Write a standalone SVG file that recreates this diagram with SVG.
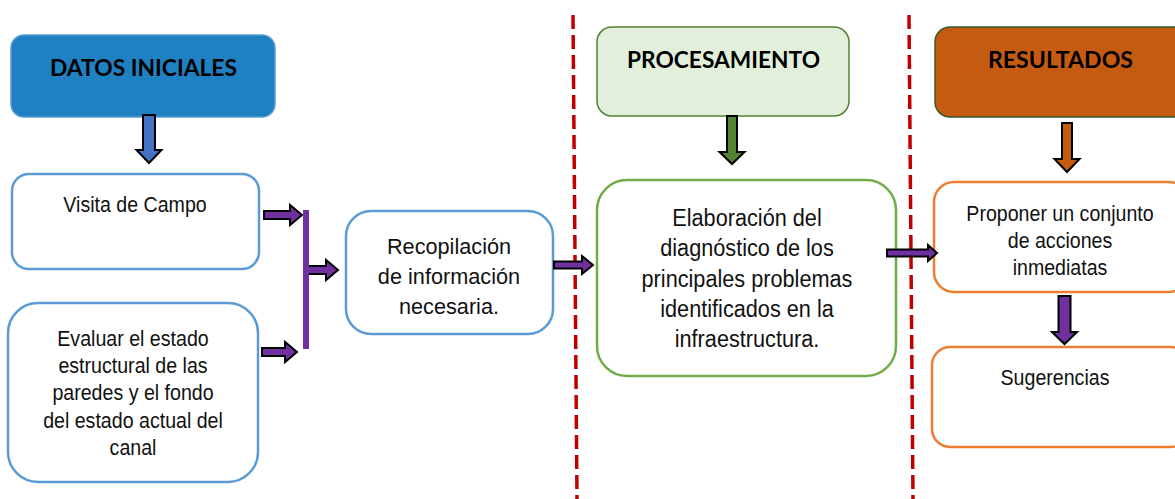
<svg xmlns="http://www.w3.org/2000/svg" width="1175" height="499" viewBox="0 0 1175 499">
<style>
.title{font-family:Lato,"Liberation Sans",sans-serif;font-weight:bold;font-size:21px;fill:#000;text-anchor:middle}
.body{font-family:"Liberation Sans",Arial,sans-serif;font-size:19.6px;fill:#111;text-anchor:middle}
.blue{fill:#fff;stroke:#5B9BD5;stroke-width:2.5}
.green{fill:#fff;stroke:#70AD47;stroke-width:2.5}
.orange{fill:#fff;stroke:#ED7D31;stroke-width:2.5}
.arr{stroke:#000;stroke-width:2;stroke-linejoin:miter}
.purple{fill:#7030A0}
.sep{stroke:#C00000;stroke-width:3.5;stroke-dasharray:14 6;fill:none}
</style>
<rect width="1175" height="499" fill="#fff"/>
<g id="separators">
<line class="sep" x1="573" y1="15" x2="577" y2="499"/>
<line class="sep" x1="909" y1="15" x2="913" y2="499"/>
</g>
<g id="datos-iniciales">
<rect x="11" y="35" width="264" height="82" rx="13" fill="#1F80C2" stroke="#5B9BD5" stroke-width="1.5"/>
<text class="title" x="143.5" y="76" style="font-size:22px" textLength="187" lengthAdjust="spacingAndGlyphs">DATOS INICIALES</text>
</g>
<g id="visita">
<rect class="blue" x="12" y="174" width="247" height="95" rx="17"/>
<text class="body" transform="translate(135,212) scale(1,1.12)">Visita de Campo</text>
</g>
<g id="evaluar">
<rect class="blue" x="8" y="303" width="250" height="179" rx="30"/>
<text class="body" transform="translate(133,346) scale(1,1.16)">Evaluar el estado</text>
<text class="body" transform="translate(133,373) scale(1,1.16)">estructural de las</text>
<text class="body" transform="translate(133,400) scale(1,1.16)">paredes y el fondo</text>
<text class="body" transform="translate(133,428) scale(1,1.16)">del estado actual del</text>
<text class="body" transform="translate(133,455) scale(1,1.16)">canal</text>
</g>
<g id="recopilacion">
<rect class="blue" x="346" y="211" width="207" height="123" rx="25"/>
<text class="body" style="font-size:21.7px" transform="translate(449,254) scale(1,1.04)">Recopilación</text>
<text class="body" style="font-size:21.7px" transform="translate(449,284) scale(1,1.04)">de información</text>
<text class="body" style="font-size:21.7px" transform="translate(449,314) scale(1,1.04)">necesaria.</text>
</g>
<g id="procesamiento">
<rect x="597" y="27" width="252" height="89" rx="15" fill="#E2EFDA" stroke="#548235" stroke-width="1.5"/>
<text class="title" x="723.5" y="68" style="font-size:22px" textLength="193" lengthAdjust="spacingAndGlyphs">PROCESAMIENTO</text>
</g>
<g id="elaboracion">
<rect class="green" x="597" y="180" width="299" height="196" rx="30"/>
<text class="body" style="font-size:21.7px" transform="translate(747,226) scale(1,1.12)">Elaboración del</text>
<text class="body" style="font-size:21.7px" transform="translate(747,256) scale(1,1.12)">diagnóstico de los</text>
<text class="body" style="font-size:21.7px" transform="translate(747,287) scale(1,1.12)">principales problemas</text>
<text class="body" style="font-size:21.7px" transform="translate(747,317) scale(1,1.12)">identificados en la</text>
<text class="body" style="font-size:21.7px" transform="translate(747,347) scale(1,1.12)">infraestructura.</text>
</g>
<g id="resultados">
<rect x="935" y="27" width="260" height="90" rx="15" fill="#C55A11" stroke="#3A5A28" stroke-width="1.5"/>
<text class="title" x="1060.5" y="68" style="font-size:22px" textLength="145" lengthAdjust="spacingAndGlyphs">RESULTADOS</text>
</g>
<g id="proponer">
<rect class="orange" x="934" y="182" width="255" height="110" rx="20"/>
<text class="body" transform="translate(1060,221) scale(1,1.14)">Proponer un conjunto</text>
<text class="body" transform="translate(1060,248) scale(1,1.14)">de acciones</text>
<text class="body" transform="translate(1060,275) scale(1,1.14)">inmediatas</text>
</g>
<g id="sugerencias">
<rect class="orange" x="932" y="347" width="257" height="100" rx="18"/>
<text class="body" transform="translate(1055,385) scale(1,1.14)">Sugerencias</text>
</g>
<g id="connectors">
<path class="arr" fill="#4472C4" d="M143 115 L155 115 L155 150 L161.5 150 L149 163 L136.5 150 L143 150 Z"/>
<path class="arr" fill="#548235" d="M727 116 L737 116 L737 152 L744.5 152 L732 164 L719.5 152 L727 152 Z"/>
<path class="arr" fill="#C55A11" d="M1062 123 L1072 123 L1072 159 L1079.5 159 L1067 172 L1054.5 159 L1062 159 Z"/>
<path class="arr purple" d="M1058.5 296 L1070.5 296 L1070.5 332 L1077 332 L1064.5 344 L1052 332 L1058.5 332 Z"/>
<path class="arr purple" d="M264 211 L290 211 L290 205 L302 215 L290 225 L290 219 L264 219 Z"/>
<path class="arr purple" d="M307 266 L326 266 L326 260 L338 270 L326 280 L326 274 L307 274 Z"/>
<path class="arr purple" d="M262 348 L285 348 L285 342 L297 352 L285 362 L285 356 L262 356 Z"/>
<path class="arr purple" d="M554 261.5 L582 261.5 L582 256 L593 265 L582 274 L582 268.5 L554 268.5 Z"/>
<path class="arr purple" d="M887 249.5 L928 249.5 L928 245 L937 253 L928 261 L928 256.5 L887 256.5 Z"/>
<rect x="303" y="210" width="6" height="139" fill="#7030A0"/>
</g>
</svg>
